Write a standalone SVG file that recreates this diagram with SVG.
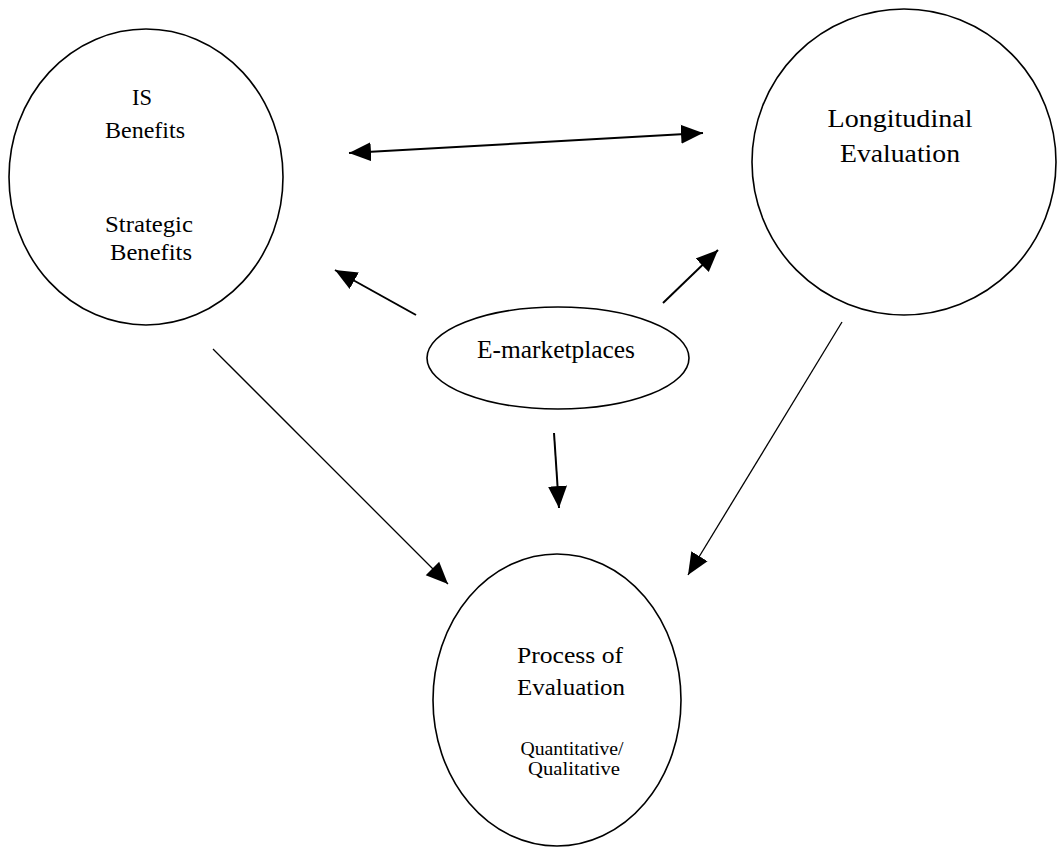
<svg xmlns="http://www.w3.org/2000/svg" width="1057" height="852" viewBox="0 0 1057 852">
  <style>
    .node { fill: none; stroke: #000; stroke-width: 1.6; }
    .lbl { font-family: "Liberation Serif", "Times New Roman", serif; fill: #000; text-anchor: middle; }
    .edge { stroke: #000; fill: none; }
    .thin { stroke-width: 1.3; }
    .thick { stroke-width: 2; }
  </style>
  <defs>
    <marker id="head" markerUnits="userSpaceOnUse" markerWidth="24" markerHeight="22" viewBox="0 0 24 22" refX="22" refY="11" orient="auto-start-reverse">
      <path d="M0,1.5 L22,11 L0,20.5 Z" fill="#000"/>
    </marker>
  </defs>
  <rect width="1057" height="852" fill="#fff"/>

  <g id="is-benefits">
    <ellipse class="node" cx="146" cy="177" rx="137" ry="148"/>
    <text class="lbl" x="142" y="105" font-size="24" textLength="20" lengthAdjust="spacingAndGlyphs">IS</text>
    <text class="lbl" x="145" y="138" font-size="24" textLength="80" lengthAdjust="spacingAndGlyphs">Benefits</text>
    <text class="lbl" x="149" y="232" font-size="24" textLength="88" lengthAdjust="spacingAndGlyphs">Strategic</text>
    <text class="lbl" x="151" y="260" font-size="24" textLength="82" lengthAdjust="spacingAndGlyphs">Benefits</text>
  </g>

  <g id="longitudinal">
    <ellipse class="node" cx="904" cy="162" rx="152" ry="153"/>
    <text class="lbl" x="900" y="127" font-size="26" textLength="145" lengthAdjust="spacingAndGlyphs">Longitudinal</text>
    <text class="lbl" x="900" y="162" font-size="26" textLength="120" lengthAdjust="spacingAndGlyphs">Evaluation</text>
  </g>

  <g id="emarketplaces">
    <ellipse class="node" cx="558" cy="358" rx="131" ry="51"/>
    <text class="lbl" x="556" y="358" font-size="26" textLength="158" lengthAdjust="spacingAndGlyphs">E-marketplaces</text>
  </g>

  <g id="process">
    <ellipse class="node" cx="557" cy="700" rx="124" ry="146"/>
    <text class="lbl" x="570" y="663" font-size="24" textLength="106" lengthAdjust="spacingAndGlyphs">Process of</text>
    <text class="lbl" x="571" y="695" font-size="24" textLength="108" lengthAdjust="spacingAndGlyphs">Evaluation</text>
    <text class="lbl" x="572" y="755" font-size="19" textLength="103" lengthAdjust="spacingAndGlyphs">Quantitative/</text>
    <text class="lbl" x="574" y="775" font-size="19" textLength="92" lengthAdjust="spacingAndGlyphs">Qualitative</text>
  </g>

  <g id="connectors">
    <line class="edge thick" x1="349" y1="153" x2="703" y2="133" marker-start="url(#head)" marker-end="url(#head)"/>
    <line class="edge thick" x1="416" y1="315" x2="335" y2="270" marker-end="url(#head)"/>
    <line class="edge thick" x1="663" y1="303" x2="718" y2="250" marker-end="url(#head)"/>
    <line class="edge thick" x1="554" y1="433" x2="559" y2="508" marker-end="url(#head)"/>
    <line class="edge thin" x1="213" y1="349" x2="448" y2="584" marker-end="url(#head)"/>
    <line class="edge thin" x1="842" y1="322" x2="688" y2="575" marker-end="url(#head)"/>
  </g>
</svg>
